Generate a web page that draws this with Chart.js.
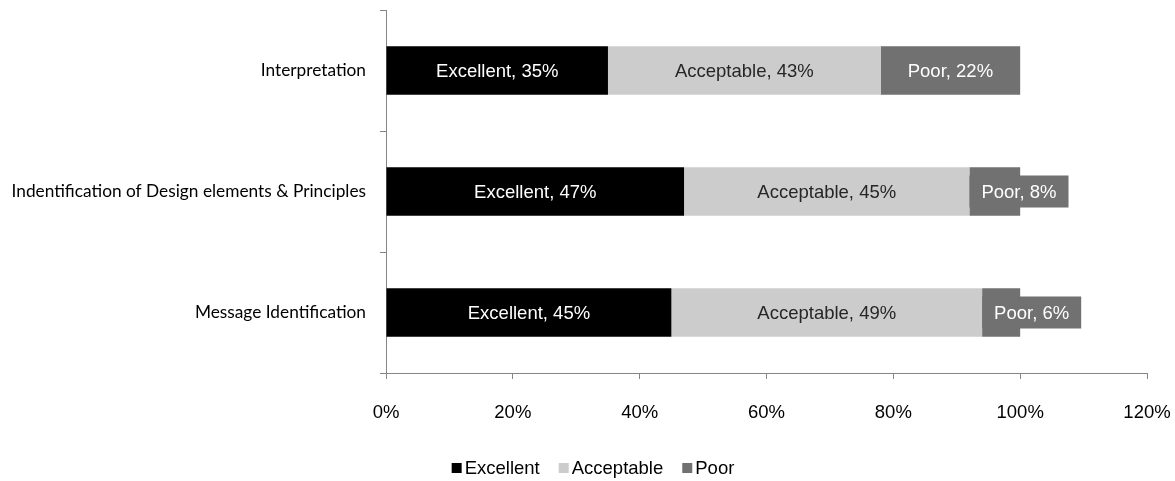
<!DOCTYPE html>
<html>
<head>
<meta charset="utf-8">
<script src="https://cdn.jsdelivr.net/npm/chart.js@4.4.1/dist/chart.umd.min.js"></script>
<style>
html,body{margin:0;padding:0;background:#fff;}
#wrap{width:1175px;height:481px;position:relative;}
</style>
</head>
<body>
<div id="wrap"><canvas id="c" width="1175" height="481"></canvas></div>
<script>
const categories = ["Interpretation", "Indentification of Design elements & Principles", "Message Identification"];
const excellent = [35, 47, 45];
const acceptable = [43, 45, 49];
const poor = [22, 8, 6];
const seriesNames = ["Excellent", "Acceptable", "Poor"];
const xTicks = [0, 20, 40, 60, 80, 100, 120];

const colors = ["#000000", "#cccccc", "#717171"];
const labelColors = ["#ffffff", "#262626", "#ffffff"];
const FONT = '"Liberation Sans", Arial, sans-serif';

const labelPlugin = {
  id: 'barLabels',
  afterDatasetsDraw(chart) {
    const ctx = chart.ctx;
    ctx.save();
    ctx.font = '18.5px ' + FONT;
    ctx.textBaseline = 'middle';
    ctx.textAlign = 'center';
    chart.data.datasets.forEach((ds, di) => {
      const meta = chart.getDatasetMeta(di);
      meta.data.forEach((el, i) => {
        const v = ds.data[i];
        const txt = ds.label + ', ' + v + '%';
        const left = Math.min(el.x, el.base), right = Math.max(el.x, el.base);
        const tw = ctx.measureText(txt).width;
        const boxW = tw + 24;
        let cx = (left + right) / 2;
        if (boxW > right - left) {
          cx = left + boxW / 2;
          ctx.fillStyle = colors[di];
          ctx.fillRect(left, el.y - 16, boxW, 32);
        }
        ctx.fillStyle = labelColors[di];
        ctx.fillText(txt, cx, el.y + 1);
      });
    });
    ctx.restore();
  }
};

const legendPlugin = {
  id: 'customLegend',
  afterDraw(chart) {
    const ctx = chart.ctx;
    ctx.save();
    ctx.font = '18.5px ' + FONT;
    ctx.textBaseline = 'middle';
    ctx.textAlign = 'left';
    const box = 10, gapBT = 3, gapItem = 19;
    const items = chart.data.datasets.map((ds, i) => ({ label: ds.label, color: colors[i], w: box + gapBT + ctx.measureText(ds.label).width }));
    const total = items.reduce((s, it) => s + it.w, 0) + gapItem * (items.length - 1);
    let x = 593 - total / 2;
    const y = 468;
    items.forEach(it => {
      ctx.fillStyle = it.color;
      ctx.fillRect(x, y - 5, box, box);
      ctx.fillStyle = '#000';
      ctx.fillText(it.label, x + box + gapBT, y + 1);
      x += it.w + gapItem;
    });
    ctx.restore();
  }
};

new Chart(document.getElementById('c'), {
  type: 'bar',
  data: {
    labels: categories,
    datasets: [
      { label: seriesNames[0], data: excellent, backgroundColor: colors[0] },
      { label: seriesNames[1], data: acceptable, backgroundColor: colors[1] },
      { label: seriesNames[2], data: poor, backgroundColor: colors[2] }
    ]
  },
  options: {
    indexAxis: 'y',
    responsive: false,
    animation: false,
    devicePixelRatio: 1,
    datasets: { bar: { categoryPercentage: 1, barPercentage: 0.4 } },
    layout: { padding: { top: 10, right: 28, left: 0, bottom: 58 } },
    scales: {
      x: {
        stacked: true,
        min: 0, max: 120,
        afterBuildTicks(axis) { axis.ticks = xTicks.map(v => ({ value: v })); },
        afterFit(axis) { axis.height = 50; axis.paddingLeft = 0; axis.paddingRight = 0; },
        ticks: {
          callback: v => v + '%',
          font: { family: FONT, size: 18.5 },
          color: '#000',
          padding: 23,
          maxRotation: 0
        },
        grid: { drawOnChartArea: false, drawTicks: true, tickLength: 6, color: '#868686', tickColor: '#868686' },
        border: { color: '#868686', width: 1 }
      },
      y: {
        stacked: true,
        afterFit(axis) { axis.width = 386; axis.paddingTop = 0; axis.paddingBottom = 0; },
        ticks: {
          font: { family: 'Lato, "Open Sans", sans-serif', size: 17.3 },
          color: '#000',
          padding: 14
        },
        grid: { drawOnChartArea: false, drawTicks: true, tickLength: 6, offset: true, color: '#868686', tickColor: '#868686' },
        border: { color: '#868686', width: 1 }
      }
    },
    plugins: {
      legend: { display: false },
      tooltip: { enabled: false }
    }
  },
  plugins: [labelPlugin, legendPlugin]
});
</script>
</body>
</html>
